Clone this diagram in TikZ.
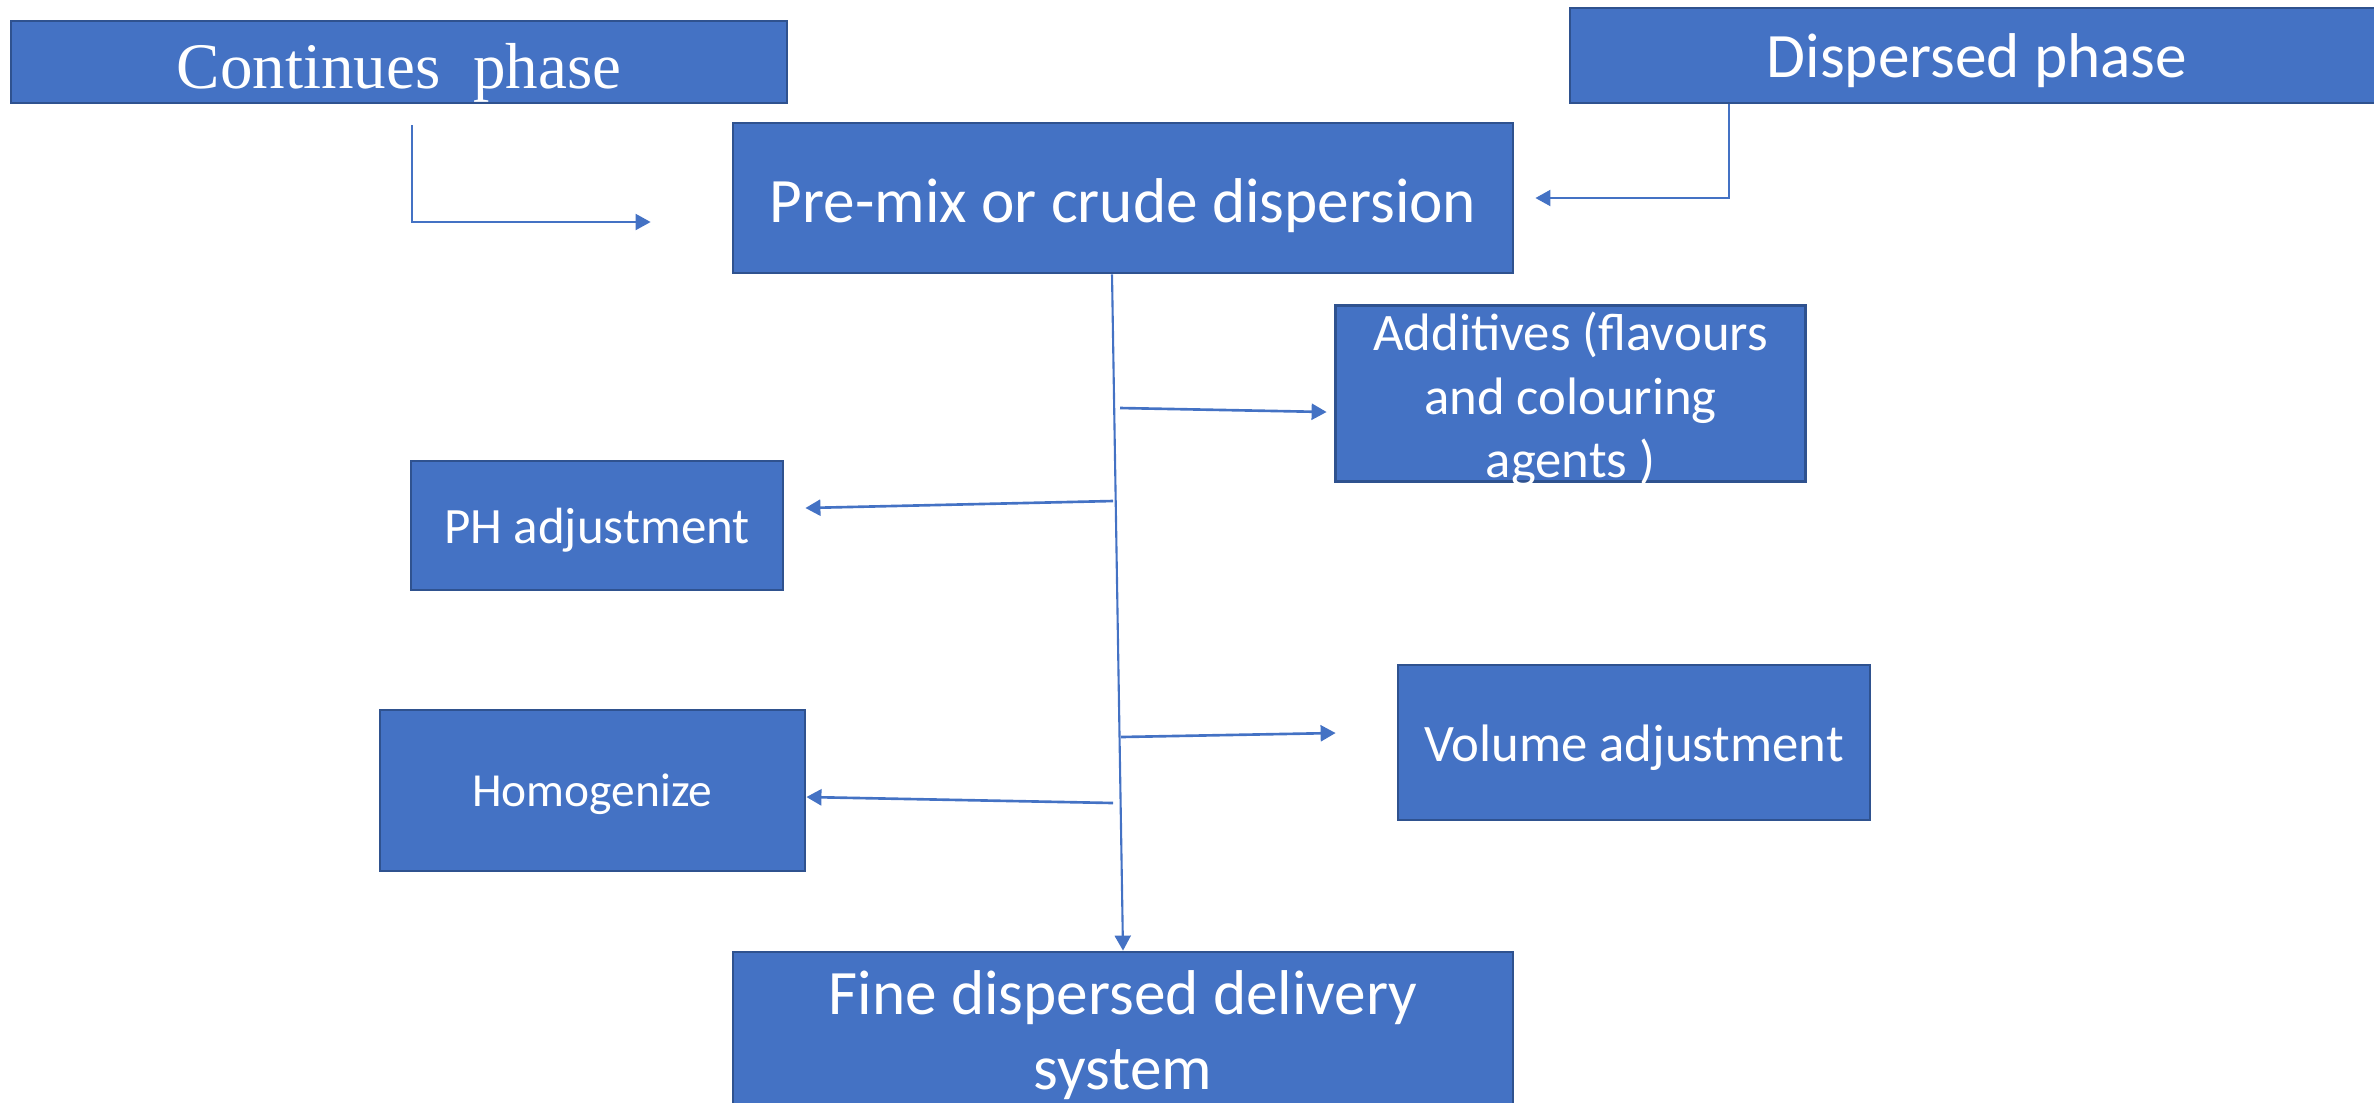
\documentclass[tikz,border=0pt]{standalone}
\usepackage{fontspec}
\setmainfont{Carlito}
\newfontfamily\timesfont{Liberation Serif}
\usetikzlibrary{arrows.meta}
\definecolor{boxblue}{HTML}{4472C4}
\definecolor{boxedge}{HTML}{2F528F}

\begin{document}
\begin{tikzpicture}[
  box/.style={draw=boxedge, line width=0.8pt, fill=boxblue, text=white, inner sep=0pt, align=center},
  flow/.style={draw=boxblue, line width=0.6pt, -{Triangle[length=0.15cm,width=0.16cm]}},
  branch/.style={flow, line width=0.75pt}
]
\useasboundingbox (0,0) rectangle (23.74,-11.02);
%inputs
\node[box, minimum width=7.76cm, minimum height=0.82cm, text height=0.52cm, text depth=0cm, font=\timesfont\fontsize{18.5}{22}\selectfont] (cont) at (3.99,-0.62) {Continues\ \ phase};
\node[box, minimum width=8.14cm, minimum height=0.95cm, text height=0.43cm, text depth=0cm, font=\fontsize{18}{22}\selectfont] (disp) at (19.77,-0.555) {Dispersed phase};
%pre-mix
\node[box, minimum width=7.80cm, minimum height=1.50cm, text height=0.49cm, text depth=0cm, font=\fontsize{18}{22}\selectfont] (premix) at (11.23,-1.98) {Pre-mix or crude dispersion};
%side steps
\node[box, minimum width=4.70cm, minimum height=1.76cm, text height=1.68cm, text depth=0cm, font=\fontsize{15}{18}\selectfont] (additives) at (15.705,-3.935) {Additives (flavours\\and colouring\\agents )};
\node[box, minimum width=3.72cm, minimum height=1.29cm, text height=0.35cm, text depth=0cm, font=\fontsize{14.5}{17}\selectfont] (ph) at (5.97,-5.255) {PH adjustment};
\node[box, minimum width=4.72cm, minimum height=1.55cm, text height=0.37cm, text depth=0cm, font=\fontsize{15}{18}\selectfont] (volume) at (16.34,-7.425) {Volume adjustment};
\node[box, minimum width=4.25cm, minimum height=1.61cm, text height=0.31cm, text depth=0cm, font=\fontsize{13.5}{16}\selectfont] (homog) at (5.925,-7.905) {Homogenize};
%end product
\node[box, minimum width=7.80cm, minimum height=1.66cm, font=\fontsize{18}{21.5}\selectfont] (fine) at (11.23,-10.35) {Fine dispersed delivery\\system};

%taps on the main line
\coordinate (tapadd) at (11.20,-4.08);
\coordinate (tapph) at (11.13,-5.01);
\coordinate (tapvol) at (11.21,-7.37);
\coordinate (taphom) at (11.13,-8.03);

%connectors
\draw[flow] ([shift={(0.13,-0.21)}]cont.south) |- ([shift={(-0.81,-0.24)}]premix.west);
\draw[flow] ([xshift=-2.48cm]disp.south) |- ([xshift=0.21cm]premix.east);

\draw[flow] ([xshift=-0.11cm]premix.south) -- (fine.north);

\draw[branch] (tapadd) -- ([shift={(-0.075,-0.185)}]additives.west);
\draw[branch] (tapph) -- ([shift={(0.21,0.175)}]ph.east);
\draw[branch] (tapvol) -- ([shift={(-0.61,0.095)}]volume.west);
\draw[branch] (taphom) -- ([yshift=-0.065cm]homog.east);
\end{tikzpicture}
\end{document}
